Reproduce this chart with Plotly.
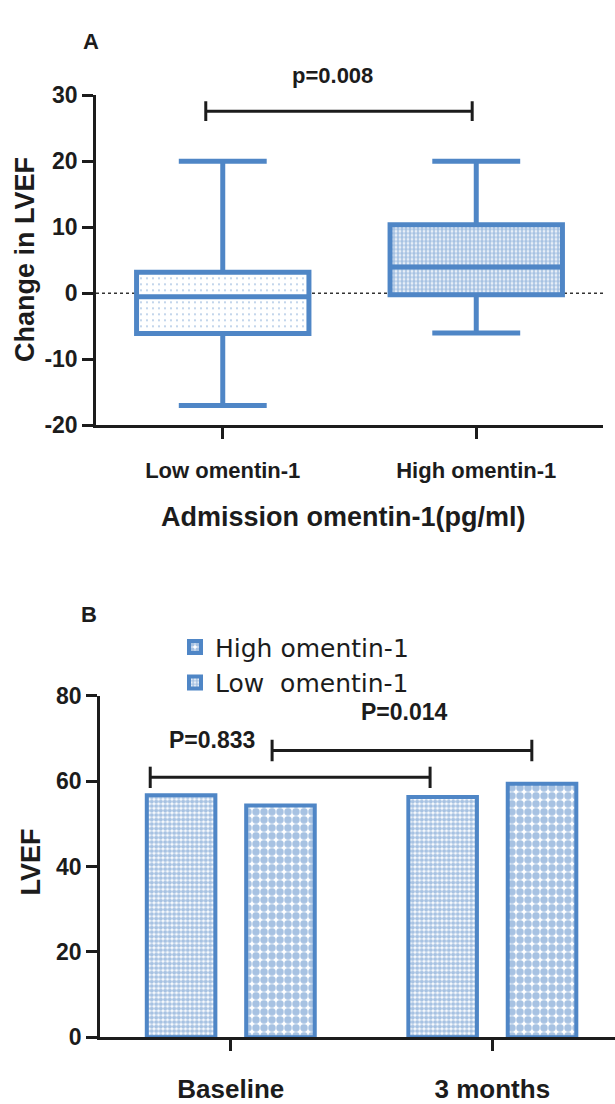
import plotly.graph_objects as go

# ---------------- data ----------------
groups_a = ["Low omentin-1", "High omentin-1"]
whisker_low = [-17, -6]
q1 = [-6.1, -0.2]
median = [-0.5, 4.0]
q3 = [3.2, 10.4]
whisker_high = [20, 20]
p_text_a = "p=0.008"
ticks_a = [-20, -10, 0, 10, 20, 30]

timepoints = ["Baseline", "3 months"]
lvef_low = [56.7, 56.3]
lvef_high = [54.3, 59.4]
series_names = ["Low  omentin-1", "High omentin-1"]
p_texts_b = ["P=0.833", "P=0.014"]
ticks_b = [0, 20, 40, 60, 80]

# bracket definitions (category-index units, value level)
bracket_a = dict(x0=-0.067, x1=0.984, y=27.6, cap=1.5)
brackets_b = [dict(x0=-0.308, x1=0.762, y=60.9, cap=2.5),
              dict(x0=0.158, x1=1.151, y=67.2, cap=2.5)]

BLUE = "#4F86C6"
INK = "#1c1c1c"
FONT = "Liberation Sans, Arial, sans-serif"
W, H = 615, 1104

fig = go.Figure()

# ---- Panel A: pattern fill of the boxes (bar from q1 to q3) ----
fig.add_trace(go.Bar(
    x=groups_a, y=[b - a for a, b in zip(q1, q3)], base=q1, width=0.68,
    marker=dict(color="white", line=dict(width=0),
                pattern=dict(shape=[".", "."], fgcolor=BLUE, bgcolor="white",
                             size=[6, 4], solidity=[0.07, 0.7])),
    showlegend=False, hoverinfo="skip", xaxis="x", yaxis="y"))

fig.add_trace(go.Box(
    x=groups_a, q1=q1, median=median, q3=q3,
    lowerfence=whisker_low, upperfence=whisker_high,
    width=0.68, whiskerwidth=0.51, boxpoints=False,
    line=dict(color=BLUE, width=5), fillcolor="rgba(0,0,0,0)",
    showlegend=False, xaxis="x", yaxis="y"))

# ---- Panel B: grouped bars ----
fig.add_trace(go.Bar(
    x=timepoints, y=lvef_low, name=series_names[0],
    marker=dict(color="white", line=dict(color=BLUE, width=4),
                pattern=dict(shape=".", fgcolor=BLUE, bgcolor="white",
                             size=4.5, solidity=0.7)),
    xaxis="x2", yaxis="y2"))
fig.add_trace(go.Bar(
    x=timepoints, y=lvef_high, name=series_names[1],
    marker=dict(color="white", line=dict(color=BLUE, width=4),
                pattern=dict(shape=".", fgcolor=BLUE, bgcolor="white",
                             size=8, solidity=0.68)),
    xaxis="x2", yaxis="y2"))

shapes = []
# zero reference line in panel A
shapes.append(dict(type="line", xref="x domain", x0=0, x1=1, yref="y", y0=0, y1=0,
                   line=dict(color="#333", width=1.5, dash="dot"), layer="below"))


def bracket(xr, yr, b):
    out = [dict(type="line", xref=xr, yref=yr, x0=b["x0"], x1=b["x1"], y0=b["y"], y1=b["y"])]
    for xx in (b["x0"], b["x1"]):
        out.append(dict(type="line", xref=xr, yref=yr, x0=xx, x1=xx,
                        y0=b["y"] - b["cap"], y1=b["y"] + b["cap"]))
    for s in out:
        s["line"] = dict(color=INK, width=3)
    return out


shapes += bracket("x", "y", bracket_a)
for b in brackets_b:
    shapes += bracket("x2", "y2", b)


def note(text, x, y, size, xref="paper", yref="paper", angle=0):
    return dict(text=text, x=x, y=y, xref=xref, yref=yref, showarrow=False,
                xanchor="center", yanchor="middle", textangle=angle,
                font=dict(size=size, color=INK, family=FONT))


ann = [
    note("<b>A</b>", 91 / W, 1 - 29 / H, 22),
    note("<b>B</b>", 89 / W, 1 - 616 / H, 22),
    note("<b>" + p_text_a + "</b>", 0.434, 1 - 64 / H, 22, xref="x"),
    note("<b>Admission omentin-1(pg/ml)</b>", 343 / W, 1 - 516 / H, 27),
    note("<b>Change in LVEF</b>", 25 / W, 1 - 253 / H, 27, angle=-90),
    note("<b>LVEF</b>", 31 / W, 1 - 870 / H, 27, angle=-90),
]
p_pos = [(-0.071, 69.7), (0.664, 76.1)]
for t, (px, py) in zip(p_texts_b, p_pos):
    ann.append(note("<b>" + t + "</b>", px, py, 23, xref="x2", yref="y2"))

axis_common = dict(showline=True, linecolor=INK, linewidth=2.5, ticks="outside",
                   tickcolor=INK, tickwidth=2.5, ticklen=11, showgrid=False,
                   zeroline=False, mirror=False)

fig.update_layout(
    width=W, height=H, margin=dict(l=0, r=0, t=0, b=0),
    paper_bgcolor="white", plot_bgcolor="white",
    font=dict(family=FONT, color=INK),
    barmode="group", bargap=0.24, bargroupgap=0.31,
    xaxis=dict(domain=[96 / W, 603 / W], range=[-0.5, 1.5], type="category",
               anchor="y", ticklabelstandoff=12,
               tickfont=dict(size=22, family=FONT, color=INK, weight="bold"), **axis_common),
    yaxis=dict(domain=[1 - 422.3 / H, 1 - 84.3 / H], range=[-20, 30],
               tickmode="array", tickvals=ticks_a, ticktext=[str(v) for v in ticks_a],
               anchor="x", tickfont=dict(size=23, family=FONT, color=INK, weight="bold"),
               **axis_common),
    xaxis2=dict(domain=[100 / W, 1.0], range=[-0.5, 1.469], type="category",
                anchor="y2", ticklabelstandoff=16,
                tickfont=dict(size=26, family=FONT, color=INK, weight="bold"), **axis_common),
    yaxis2=dict(domain=[1 - 1049 / H, 1 - 699.3 / H], range=[0, 80],
                tickmode="array", tickvals=ticks_b, ticktext=[str(v) for v in ticks_b],
                anchor="x2", tickfont=dict(size=23, family=FONT, color=INK, weight="bold"),
                **axis_common),
    legend=dict(x=175 / W, y=1 - 626 / H, xanchor="left", yanchor="top",
                traceorder="reversed", bgcolor="rgba(0,0,0,0)",
                font=dict(size=25, family="DejaVu Sans", color=INK),
                tracegroupgap=0, itemwidth=30),
    shapes=shapes, annotations=ann,
)

fig.write_html("out.html")
